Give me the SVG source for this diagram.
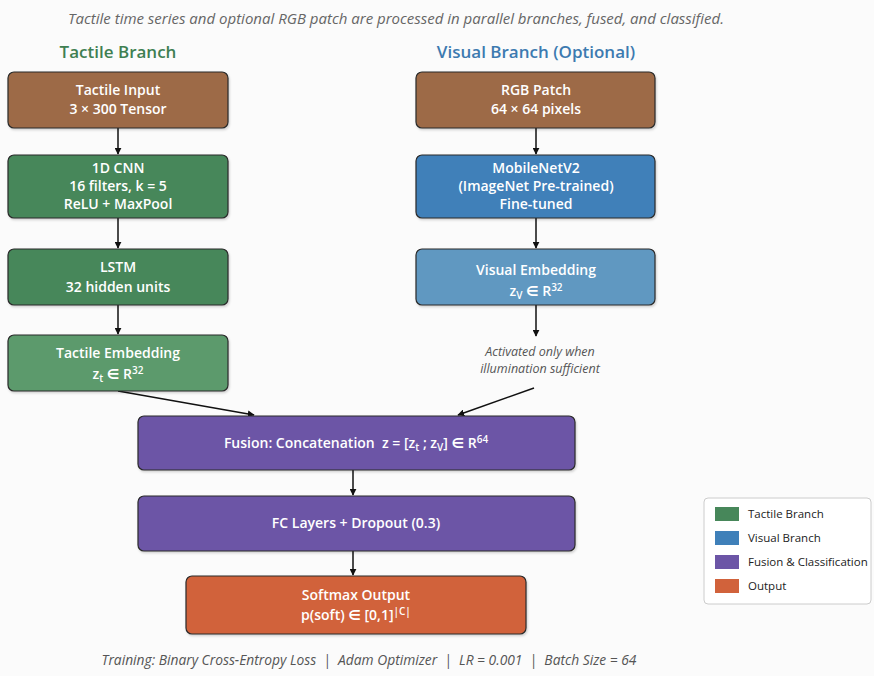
<svg xmlns="http://www.w3.org/2000/svg" width="874" height="676" viewBox="0 0 874 676">
<defs>
<marker id="ah" viewBox="0 0 10 10" refX="9" refY="5" markerWidth="7" markerHeight="7" orient="auto" markerUnits="userSpaceOnUse">
<path d="M0,0 L10,5 L0,10 z" fill="#111"/>
</marker>
<filter id="sh" x="-5%" y="-10%" width="110%" height="130%">
<feDropShadow dx="1" dy="1.5" stdDeviation="1.2" flood-color="#000" flood-opacity="0.18"/>
</filter>
</defs>
<style>
.box{stroke:#2a2a2a;stroke-width:1.2;filter:url(#sh)}
.brown{fill:#9d6b47}
.green{fill:#47875a}
.lgreen{fill:#5b9a6c}
.blue{fill:#3f80b9}
.lblue{fill:#6198c1}
.purple{fill:#6c55a6}
.orange{fill:#d1623b}
.t{font-family:"Open Sans","Noto Sans","DejaVu Sans",sans-serif;font-weight:600;font-size:14px;fill:#fff;text-anchor:middle}
.hdr{font-family:"Open Sans","Noto Sans",sans-serif;font-weight:600;font-size:17px;text-anchor:middle}
.note{font-family:"Open Sans","Noto Sans",sans-serif;font-style:italic;font-size:12.5px;fill:#555;text-anchor:middle}
.lg{font-family:"Open Sans","Noto Sans",sans-serif;font-size:11.5px;fill:#222}
.sub{font-size:10px}
.conn{stroke:#111;stroke-width:1.5;fill:none;marker-end:url(#ah)}
</style>
<rect width="874" height="676" fill="#fbfbfb"/>
<text class="note" x="396" y="24" style="font-size:15px;fill:#666">Tactile time series and optional RGB patch are processed in parallel branches, fused, and classified.</text>
<text class="hdr" x="118" y="58" fill="#3f7f52">Tactile Branch</text>
<text class="hdr" x="536" y="58" fill="#3d7ab0">Visual Branch (Optional)</text>

<g id="connectors">
<line class="conn" x1="118" y1="128" x2="118" y2="154"/>
<line class="conn" x1="118" y1="218" x2="118" y2="248"/>
<line class="conn" x1="118" y1="305" x2="118" y2="334"/>
<line class="conn" x1="536" y1="128" x2="536" y2="154"/>
<line class="conn" x1="536" y1="218" x2="536" y2="248"/>
<line class="conn" x1="536" y1="305" x2="536" y2="336"/>
<line class="conn" x1="118" y1="391" x2="254" y2="415"/>
<line class="conn" x1="534" y1="388" x2="458" y2="415"/>
<line class="conn" x1="353" y1="470" x2="353" y2="495"/>
<line class="conn" x1="353" y1="551" x2="353" y2="575"/>
</g>

<g id="tactile_input">
<rect class="box brown" x="8" y="72" width="220" height="56" rx="6"/>
<text class="t" x="118" y="95">Tactile Input</text>
<text class="t" x="118" y="114">3 × 300 Tensor</text>
</g>
<g id="cnn">
<rect class="box green" x="8" y="155" width="220" height="63" rx="6"/>
<text class="t" x="118" y="173">1D CNN</text>
<text class="t" x="118" y="191">16 filters, k = 5</text>
<text class="t" x="118" y="209">ReLU + MaxPool</text>
</g>
<g id="lstm">
<rect class="box green" x="8" y="249" width="220" height="56" rx="6"/>
<text class="t" x="118" y="272">LSTM</text>
<text class="t" x="118" y="292">32 hidden units</text>
</g>
<g id="tactile_embedding">
<rect class="box lgreen" x="8" y="335" width="220" height="56" rx="6"/>
<text class="t" x="118" y="358">Tactile Embedding</text>
<text class="t" x="118" y="379">z<tspan class="sub" dy="3">t</tspan><tspan dy="-3"> ∈ R</tspan><tspan class="sub" dy="-5">32</tspan></text>
</g>

<g id="rgb_patch">
<rect class="box brown" x="416" y="72" width="239" height="56" rx="6"/>
<text class="t" x="536" y="95">RGB Patch</text>
<text class="t" x="536" y="114">64 × 64 pixels</text>
</g>
<g id="mobilenet">
<rect class="box blue" x="416" y="155" width="239" height="63" rx="6"/>
<text class="t" x="536" y="173">MobileNetV2</text>
<text class="t" x="536" y="191">(ImageNet Pre-trained)</text>
<text class="t" x="536" y="209">Fine-tuned</text>
</g>
<g id="visual_embedding">
<rect class="box lblue" x="416" y="249" width="239" height="56" rx="6"/>
<text class="t" x="536" y="275">Visual Embedding</text>
<text class="t" x="536" y="296">z<tspan class="sub" dy="3">V</tspan><tspan dy="-3"> ∈ R</tspan><tspan class="sub" dy="-5">32</tspan></text>
</g>
<g id="activation_note">
<text class="note" x="540" y="356">Activated only when</text>
<text class="note" x="540" y="373">illumination sufficient</text>
</g>

<g id="fusion">
<rect class="box purple" x="138" y="416" width="437" height="54" rx="6"/>
<text class="t" x="356" y="448" xml:space="preserve">Fusion: Concatenation  z = [z<tspan class="sub" dy="3">t</tspan><tspan dy="-3"> ; z</tspan><tspan class="sub" dy="3">V</tspan><tspan dy="-3">] ∈ R</tspan><tspan class="sub" dy="-5">64</tspan></text>
</g>
<g id="fc">
<rect class="box purple" x="138" y="496" width="437" height="55" rx="6"/>
<text class="t" x="356" y="528">FC Layers + Dropout (0.3)</text>
</g>
<g id="softmax">
<rect class="box orange" x="186" y="576" width="340" height="58" rx="6"/>
<text class="t" x="356" y="600">Softmax Output</text>
<text class="t" x="356" y="620">p(soft) ∈ [0,1]<tspan class="sub" dy="-5">|C|</tspan></text>
</g>

<text class="note" x="369" y="665" style="font-size:13.8px" xml:space="preserve">Training: Binary Cross-Entropy Loss  |  Adam Optimizer  |  LR = 0.001  |  Batch Size = 64</text>

<g id="legend">
<rect x="704" y="498" width="167" height="106" rx="4" fill="#fff" stroke="#ccc" stroke-width="1"/>
<rect x="715" y="507" width="24" height="14" fill="#47875a"/>
<text class="lg" x="748" y="518">Tactile Branch</text>
<rect x="715" y="531" width="24" height="14" fill="#3f80b9"/>
<text class="lg" x="748" y="542">Visual Branch</text>
<rect x="715" y="555" width="24" height="14" fill="#6c55a6"/>
<text class="lg" x="748" y="566">Fusion &amp; Classification</text>
<rect x="715" y="579" width="24" height="14" fill="#d1623b"/>
<text class="lg" x="748" y="590">Output</text>
</g>
</svg>
